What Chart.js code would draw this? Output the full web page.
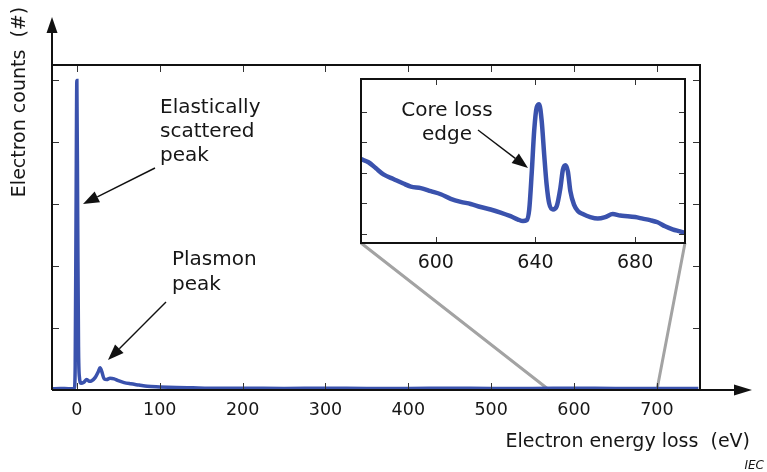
<!DOCTYPE html>
<html>
<head>
<meta charset="utf-8">
<script src="https://cdn.jsdelivr.net/npm/chart.js@4.4.0/dist/chart.umd.min.js"></script>
<style>
  html, body { margin: 0; padding: 0; background: #fff; }
  #wrap { position: relative; width: 767px; height: 472px; }
  #mainChart { position: absolute; left: 0; top: 0; }
  #insetChart { position: absolute; left: 340px; top: 70px; }
</style>
</head>
<body>
<div id="wrap">
  <canvas id="mainChart" width="767" height="472"></canvas>
  <canvas id="insetChart" width="360" height="210"></canvas>
</div>
<script>
// full spectrum (eV, counts in arbitrary units)
const mainEnergy = [-30, -20, -10, -5, -3, -2, -1, 0, 1, 2, 3, 5, 8, 12, 15, 18, 22, 26, 28, 30, 33, 36, 40, 45, 50, 57, 65, 75, 85, 100, 120, 140, 160, 200, 250, 300, 350, 400, 450, 500, 550, 600, 650, 700, 750];
const mainCounts = [0.02, 0.025, 0.02, 0.02, 0.03, 0.4, 2.8, 5.0, 2.8, 0.7, 0.22, 0.11, 0.12, 0.17, 0.14, 0.15, 0.2, 0.3, 0.36, 0.3, 0.18, 0.17, 0.19, 0.18, 0.15, 0.12, 0.1, 0.08, 0.06, 0.05, 0.04, 0.035, 0.03, 0.03, 0.025, 0.03, 0.025, 0.025, 0.03, 0.025, 0.025, 0.03, 0.025, 0.025, 0.025];
const mainTicks = [0, 100, 200, 300, 400, 500, 600, 700];
const mainYTicks = [1, 2, 3, 4, 5];

// core loss edge region (inset)
const insetEnergy = [570, 573, 576, 579, 583, 587, 590, 594, 598, 602, 606, 610, 614, 618, 622, 626, 630, 633, 635, 636.5, 637.5, 638.5, 639.5, 640.5, 641.5, 642.5, 643.5, 644.5, 645.5, 647, 648.5, 650, 651, 652, 653, 654, 655.5, 657, 659, 662, 665, 668, 671, 674, 677, 680, 683, 686, 689, 692, 695, 698, 700];
const insetCounts = [3.45, 3.35, 3.15, 2.95, 2.8, 2.65, 2.55, 2.5, 2.4, 2.3, 2.15, 2.05, 1.98, 1.88, 1.8, 1.7, 1.58, 1.47, 1.42, 1.45, 1.8, 3.0, 4.4, 5.15, 5.25, 4.7, 3.6, 2.6, 2.0, 1.8, 1.9, 2.5, 3.1, 3.25, 3.05, 2.4, 1.95, 1.75, 1.65, 1.55, 1.5, 1.55, 1.65, 1.6, 1.58, 1.55, 1.5, 1.45, 1.38, 1.25, 1.15, 1.08, 1.03];
const insetTicks = [600, 640, 680];
const insetYTicks = [1, 2, 3, 4, 5];
const insetMin = 570, insetMax = 700;

const lineColor = '#3a52ad';
const textColor = '#161616';
const fontFamily = '"DejaVu Sans", Arial, sans-serif';

function arrow(ctx, x1, y1, x2, y2, len, w) {
    const ang = Math.atan2(y2 - y1, x2 - x1);
    const bx = x2 - len * Math.cos(ang), by = y2 - len * Math.sin(ang);
    ctx.beginPath();
    ctx.moveTo(x1, y1);
    ctx.lineTo(bx, by);
    ctx.stroke();
    ctx.beginPath();
    ctx.moveTo(x2, y2);
    ctx.lineTo(bx + w / 2 * Math.sin(ang), by - w / 2 * Math.cos(ang));
    ctx.lineTo(bx - w / 2 * Math.sin(ang), by + w / 2 * Math.cos(ang));
    ctx.closePath();
    ctx.fill();
}

function drawFrameTicks(ctx, a, xs, ys, xt, yt, len) {
    ctx.strokeStyle = '#333';
    ctx.lineWidth = 1;
    ctx.beginPath();
    xt.forEach(v => {
        const px = Math.round(xs.getPixelForValue(v)) + 0.5;
        ctx.moveTo(px, a.bottom); ctx.lineTo(px, a.bottom - len);
        ctx.moveTo(px, a.top); ctx.lineTo(px, a.top + len);
    });
    yt.forEach(v => {
        const py = Math.round(ys.getPixelForValue(v)) + 0.5;
        ctx.moveTo(a.left, py); ctx.lineTo(a.left + len, py);
        ctx.moveTo(a.right, py); ctx.lineTo(a.right - len, py);
    });
    ctx.stroke();
}

const insetDeco = {
    id: 'insetDeco',
    beforeDatasetsDraw(chart) {
        const {ctx, chartArea: a} = chart;
        ctx.save();
        ctx.fillStyle = '#fff';
        ctx.fillRect(a.left, a.top, a.right - a.left, a.bottom - a.top);
        ctx.restore();
    },
    afterDraw(chart) {
        const {ctx, chartArea: a, scales: {x, y}} = chart;
        ctx.save();
        drawFrameTicks(ctx, a, x, y, insetTicks, insetYTicks, 6);
        ctx.strokeStyle = '#111';
        ctx.lineWidth = 2;
        ctx.strokeRect(a.left, a.top, a.right - a.left, a.bottom - a.top);
        ctx.fillStyle = textColor;
        ctx.font = '20px ' + fontFamily;
        ctx.textAlign = 'center';
        ctx.fillText('Core loss', 447 - 340, 116 - 70);
        ctx.fillText('edge', 447 - 340, 140 - 70);
        ctx.strokeStyle = '#111';
        ctx.fillStyle = '#111';
        ctx.lineWidth = 1.4;
        arrow(ctx, 478 - 340, 130 - 70, 528 - 340, 168 - 70, 16, 12);
        ctx.restore();
    }
};

const insetChart = new Chart(document.getElementById('insetChart').getContext('2d'), {
    type: 'line',
    data: {
        datasets: [{
            data: insetEnergy.map((e, i) => ({x: e, y: insetCounts[i]})),
            borderColor: lineColor,
            borderWidth: 4.5,
            pointRadius: 0,
            cubicInterpolationMode: 'monotone'
        }]
    },
    options: {
        responsive: false,
        animation: false,
        events: [],
        layout: { padding: { left: 21, right: 15, top: 9, bottom: 0 } },
        plugins: { legend: { display: false }, tooltip: { enabled: false } },
        scales: {
            x: {
                type: 'linear', min: insetMin, max: insetMax,
                afterBuildTicks: s => { s.ticks = insetTicks.map(v => ({value: v})); },
                afterFit: s => { s.height = 37; },
                grid: { display: false, drawTicks: false },
                border: { display: false },
                ticks: { padding: 9, color: textColor, font: { family: fontFamily, size: 19 }, maxRotation: 0, autoSkip: false }
            },
            y: { display: false, min: 0.7, max: 6.08 }
        }
    },
    plugins: [insetDeco]
});

const mainDeco = {
    id: 'mainDeco',
    beforeDatasetsDraw(chart) {
        const {ctx, chartArea: a, scales: {x}} = chart;
        const ia = insetChart.chartArea;
        const ox = 340, oy = 70;
        ctx.save();
        ctx.strokeStyle = '#a3a3a3';
        ctx.lineWidth = 3;
        ctx.beginPath();
        ctx.moveTo(ia.left + ox, ia.bottom + oy);
        ctx.lineTo(x.getPixelForValue(insetMin), a.bottom);
        ctx.moveTo(ia.right + ox, ia.bottom + oy);
        ctx.lineTo(x.getPixelForValue(insetMax), a.bottom);
        ctx.stroke();
        ctx.restore();
    },
    afterDraw(chart) {
        const {ctx, chartArea: a, scales: {x, y}} = chart;
        ctx.save();
        drawFrameTicks(ctx, a, x, y, mainTicks, mainYTicks, 7);
        // frame top/right
        ctx.strokeStyle = '#111';
        ctx.lineWidth = 2;
        ctx.beginPath();
        ctx.moveTo(a.left, a.top); ctx.lineTo(a.right, a.top); ctx.lineTo(a.right, a.bottom);
        ctx.stroke();
        // axes with arrowheads
        ctx.fillStyle = '#111';
        arrow(ctx, a.left, a.bottom, a.left, 17, 16, 11);
        arrow(ctx, a.left, a.bottom, 752, a.bottom, 18, 11);

        // texts
        ctx.fillStyle = textColor;
        ctx.font = '19px ' + fontFamily;
        ctx.textAlign = 'right';
        ctx.fillText('Electron energy loss  (eV)', 750, 447);
        ctx.save();
        ctx.translate(25, 102);
        ctx.rotate(-Math.PI / 2);
        ctx.textAlign = 'center';
        ctx.fillText('Electron counts  (#)', 0, 0);
        ctx.restore();
        ctx.font = 'italic 12px ' + fontFamily;
        ctx.fillText('IEC', 764, 469);

        ctx.font = '20px ' + fontFamily;
        ctx.textAlign = 'left';
        ctx.fillText('Elastically', 160, 113);
        ctx.fillText('scattered', 160, 137);
        ctx.fillText('peak', 160, 161);
        ctx.fillText('Plasmon', 172, 265);
        ctx.fillText('peak', 172, 290);

        ctx.strokeStyle = '#111';
        ctx.fillStyle = '#111';
        ctx.lineWidth = 1.4;
        arrow(ctx, 155, 168, 83, 204, 16, 12);
        arrow(ctx, 166, 302, 108, 360, 16, 12);
        ctx.restore();
    }
};

new Chart(document.getElementById('mainChart').getContext('2d'), {
    type: 'line',
    data: {
        datasets: [{
            data: mainEnergy.map((e, i) => ({x: e, y: mainCounts[i]})),
            borderColor: lineColor,
            borderWidth: 3.5,
            pointRadius: 0,
            cubicInterpolationMode: 'monotone'
        }]
    },
    options: {
        responsive: false,
        animation: false,
        events: [],
        layout: { padding: { left: 52, right: 67, top: 65, bottom: 52 } },
        plugins: { legend: { display: false }, tooltip: { enabled: false } },
        scales: {
            x: {
                type: 'linear', min: -30, max: 752,
                afterBuildTicks: s => { s.ticks = mainTicks.map(v => ({value: v})); },
                afterFit: s => { s.height = 30; },
                grid: { display: false, drawTicks: false },
                border: { display: false },
                ticks: { padding: 10, color: textColor, font: { family: fontFamily, size: 17.5 }, maxRotation: 0, autoSkip: false }
            },
            y: { display: false, min: 0, max: 5.25 }
        }
    },
    plugins: [mainDeco]
});
</script>
</body>
</html>
